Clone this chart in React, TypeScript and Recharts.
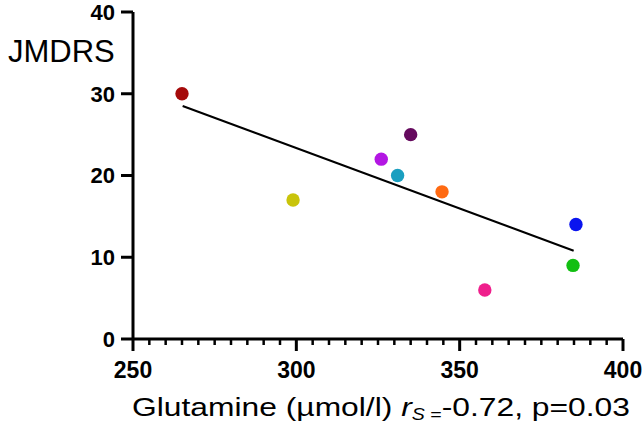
import React from "react";
import {
  ScatterChart,
  Scatter,
  XAxis,
  YAxis,
  Cell,
  ReferenceLine,
} from "recharts";

// Glutamine (µmol/l) vs JMDRS, one colour per subject
const GLUTAMINE = [265, 299, 326, 335, 331, 344.6, 357.7, 385.6, 384.7];
const JMDRS = [30, 17, 22, 25, 20, 18, 6, 14, 9];
const POINT_COLORS = [
  "#a50a0a", // dark red
  "#c9c40a", // olive yellow
  "#b316e3", // violet
  "#650a5e", // plum
  "#1a9fc0", // teal
  "#ff6a12", // orange
  "#ef1f8c", // pink
  "#0a14ef", // blue
  "#12bf12", // green
];

// fitted line end points
const FIT_X = [265.2, 384.9];
const FIT_Y = [28.5, 10.8];

const X_TICKS = [
  250, 255, 260, 265, 270, 275, 280, 285, 290, 295, 300, 305, 310, 315, 320,
  325, 330, 335, 340, 345, 350, 355, 360, 365, 370, 375, 380, 385, 390, 395,
  400,
];
const X_MAJOR = [250, 300, 350, 400];
const Y_TICKS = [0, 10, 20, 30, 40];

const FONT = "'Liberation Sans', Arial, sans-serif";

const data = GLUTAMINE.map((x, i) => ({ x, y: JMDRS[i] }));

// x ticks: long on majors with a label, short minors every 5
function XTick(props: any) {
  const { x, y, payload } = props;
  const major = X_MAJOR.includes(payload.value);
  return (
    <g>
      <line
        x1={x}
        x2={x}
        y1={y}
        y2={y + (major ? 12 : 6)}
        stroke="#000"
        strokeWidth={major ? 3 : 2.5}
      />
      {major && (
        <text
          x={x}
          y={y + 39}
          textAnchor="middle"
          fontFamily={FONT}
          fontWeight="bold"
          fontSize={23}
          fill="#000"
        >
          {payload.value}
        </text>
      )}
    </g>
  );
}

const Dot = (p: any) => <circle cx={p.cx} cy={p.cy} r={6.7} fill={p.fill} />;

export default function App() {
  return (
    <div style={{ position: "absolute", left: 0, top: 0, width: 644, height: 428, background: "#fff" }}>
      <ScatterChart
        width={644}
        height={428}
        margin={{ top: 12, right: 21, left: 0, bottom: 0 }}
      >
        <XAxis
          type="number"
          dataKey="x"
          domain={[250, 400]}
          ticks={X_TICKS}
          interval={0}
          tickSize={0}
          tickMargin={0}
          tickLine={false}
          tick={<XTick />}
          axisLine={{ stroke: "#000", strokeWidth: 3 }}
          height={89}
          allowDataOverflow
        />
        <YAxis
          type="number"
          dataKey="y"
          domain={[0, 40]}
          ticks={Y_TICKS}
          interval={0}
          width={133}
          tickSize={12}
          tickMargin={6}
          tickLine={{ stroke: "#000", strokeWidth: 3 }}
          axisLine={{ stroke: "#000", strokeWidth: 3 }}
          tick={{
            fill: "#000",
            fontFamily: FONT,
            fontWeight: "bold",
            fontSize: 22,
          }}
          allowDataOverflow
        />
        <ReferenceLine
          segment={[
            { x: FIT_X[0], y: FIT_Y[0] },
            { x: FIT_X[1], y: FIT_Y[1] },
          ]}
          stroke="#000"
          strokeWidth={2}
        />
        <Scatter data={data} shape={Dot} isAnimationActive={false}>
          {data.map((_, i) => (
            <Cell key={i} fill={POINT_COLORS[i]} />
          ))}
        </Scatter>
      </ScatterChart>
      <svg
        width={644}
        height={428}
        style={{ position: "absolute", left: 0, top: 0, pointerEvents: "none" }}
      >
        <text x={8} y={62} fontFamily={FONT} fontSize={31} fill="#000">
          JMDRS
        </text>
        <text
          x={132}
          y={416}
          fontFamily={FONT}
          fontSize={26}
          fill="#000"
          textLength={498}
          lengthAdjust="spacingAndGlyphs"
        >
          Glutamine (µmol/l){" "}
          <tspan fontStyle="italic">r</tspan>
          <tspan fontStyle="italic" fontSize={16} dy={4}>S</tspan>
          <tspan fontSize={16}> =</tspan>
          <tspan dy={-4}>-0.72, p=0.03</tspan>
        </text>
      </svg>
    </div>
  );
}
